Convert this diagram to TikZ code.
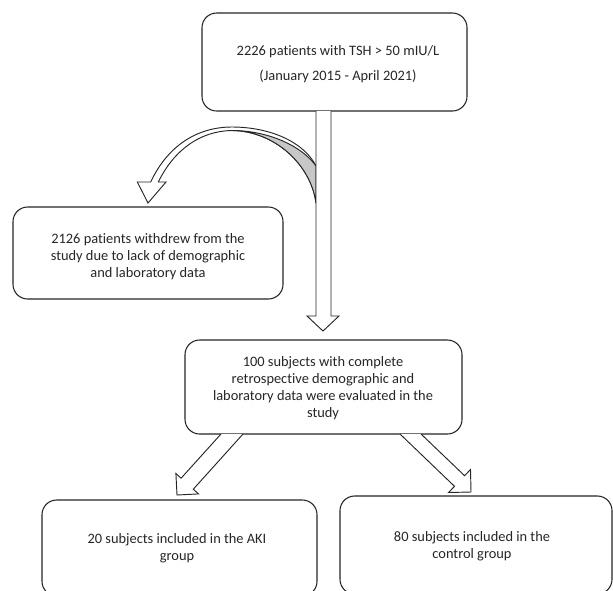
\documentclass[tikz,border=0pt]{standalone}
\usepackage{fontspec}
\setmainfont{Carlito}[Ligatures=NoCommon]
\begin{document}
\begin{tikzpicture}[x=0.75pt,y=-0.75pt,
  box/.style={draw=black!85, line width=0.8pt, rounded corners=11pt, fill=white, inner sep=0pt},
  txt/.style={align=center, font=\fontsize{10.8}{12.8}\selectfont, text=black!85, inner sep=0pt},
  blk/.style={draw=black!85, line width=0.7pt, fill=white, line join=miter},
  under/.style={draw=black!85, line width=0.7pt, fill=black!22}]
\clip (0,0) rectangle (613,590);
\fill[white] (0,0) rectangle (613,590);

% boxes
\node[box, minimum width=198.75pt, minimum height=73.5pt] (b1) at (334.5,62) {};
\node[txt] (t1) at (338,64.5) {2226 patients with TSH > 50 mIU/L\\[5.9pt](January 2015 - April 2021)};

\node[box, minimum width=202.5pt, minimum height=69pt] (b2) at (148,253) {};
\node[txt] (t2) at (148,257) {2126 patients withdrew from the\\study due to lack of demographic\\and laboratory data};

\node[box, minimum width=207.75pt, minimum height=70.5pt] (b3) at (323.5,387) {};
\node[txt] (t3) at (323,388) {100 subjects with complete\\retrospective demographic and\\laboratory data were evaluated in the\\study};

\node[box, minimum width=206.25pt, minimum height=72pt] (b4) at (179.5,548) {};
\node[txt] (t4) at (177,548) {20 subjects included in the AKI\\group};

\node[box, minimum width=204pt, minimum height=73.5pt] (b5) at (476,545) {};
\node[txt] (t5) at (472,546) {80 subjects included in the\\control group};

% curved block arrow (to withdrawn box)
\draw[blk] (316,166) .. controls (304,142) and (270,127) .. (232,127)
  .. controls (198,127) and (168,145) .. (150.7,182)
  -- (137.3,182) -- (148,203) -- (166,182) -- (158.3,182)
  .. controls (174,150) and (200,131) .. (232,130.5)
  .. controls (275,131) and (311,165) .. (316,203);
\draw[under] (232,130.5) .. controls (268,130.5) and (302,146) .. (316,166)
  -- (316,203) .. controls (311,165) and (275,131) .. (232,130.5) -- cycle;

% vertical block arrow
\draw[blk] (316,111) -- (316,316) -- (307,316) -- (323,331) -- (339,316) -- (331,316) -- (331,111);

% diagonal block arrows
\draw[blk] (221,434) -- (181.1,478.2) -- (175.9,473.5) -- (177,495) -- (198.5,493.9) -- (193.3,489.2) -- (243,434);
\draw[blk] (400,434) -- (454.5,486.3) -- (448.5,492.5) -- (471,492) -- (470.5,469.5) -- (464.6,475.7) -- (421,434);
\end{tikzpicture}
\end{document}
